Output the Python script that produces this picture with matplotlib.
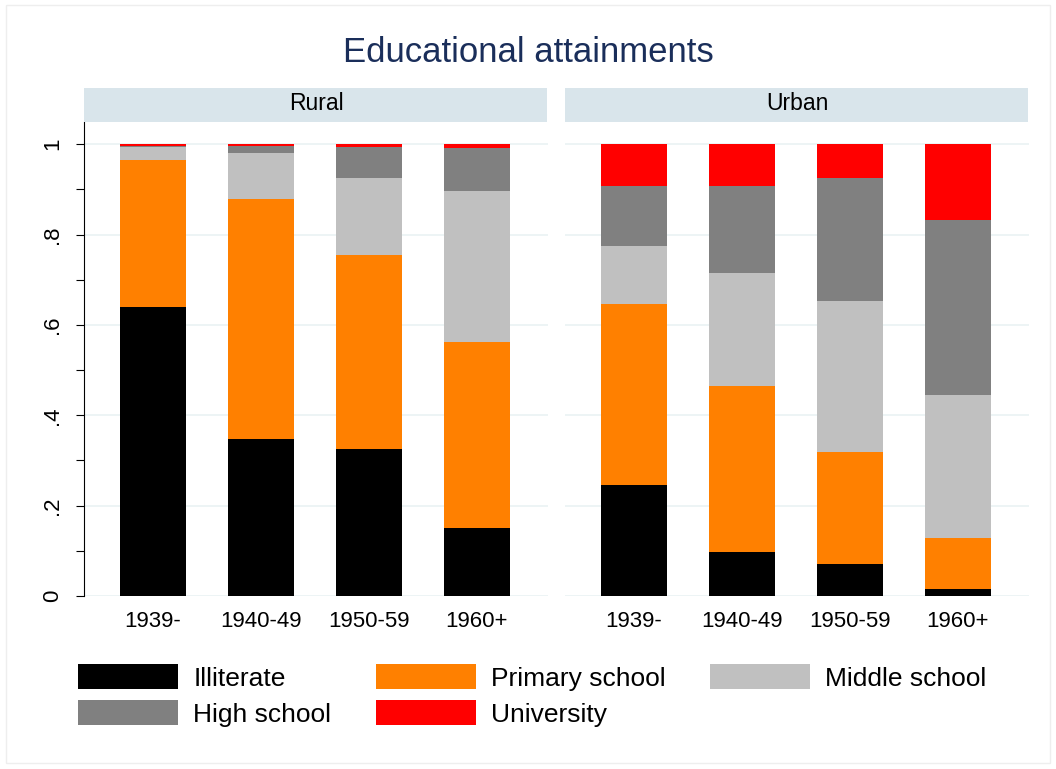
import matplotlib.pyplot as plt
import numpy as np
from matplotlib.patches import Patch, Rectangle

plt.rcParams['font.family'] = ['Liberation Sans', 'DejaVu Sans']

# Cohorts and education levels
cohorts = ['1939-', '1940-49', '1950-59', '1960+']
levels = ['Illiterate', 'Primary school', 'Middle school', 'High school', 'University']
colors = ['#000000', '#ff8000', '#c0c0c0', '#808080', '#ff0000']

# Shares by level (one list per level, one value per cohort)
rural_illiterate = [0.639, 0.347, 0.325, 0.150]
rural_primary = [0.326, 0.531, 0.429, 0.412]
rural_middle = [0.029, 0.103, 0.171, 0.334]
rural_high = [0.002, 0.015, 0.069, 0.095]
rural_university = [0.004, 0.004, 0.006, 0.009]

urban_illiterate = [0.246, 0.097, 0.071, 0.015]
urban_primary = [0.400, 0.368, 0.248, 0.113]
urban_middle = [0.128, 0.250, 0.334, 0.317]
urban_high = [0.134, 0.192, 0.272, 0.387]
urban_university = [0.092, 0.093, 0.075, 0.168]

panels = {
    'Rural': [rural_illiterate, rural_primary, rural_middle, rural_high, rural_university],
    'Urban': [urban_illiterate, urban_primary, urban_middle, urban_high, urban_university],
}

fig = plt.figure(figsize=(10.56, 7.69), dpi=100)
fig.patches.append(Rectangle((0.006, 0.008), 0.988, 0.985, transform=fig.transFigure,
                             fill=False, edgecolor='#eeeeee', linewidth=1))

W, H = 1056, 769
x = np.arange(len(cohorts))
lefts = [84, 565]
for (name, shares), left in zip(panels.items(), lefts):
    ax = fig.add_axes([left / W, 1 - 596 / H, 464 / W, 474 / H])
    bottom = np.zeros(len(cohorts))
    for vals, col in zip(shares, colors):
        ax.bar(x, vals, bottom=bottom, width=0.61, color=col, zorder=3)
        bottom += np.array(vals)
    ax.set_xlim(-0.64, 3.66)
    ax.set_ylim(0, 1.049)
    ax.set_xticks(x)
    ax.set_xticklabels(cohorts, fontsize=16)
    ax.tick_params(axis='x', length=0, pad=11)
    ax.set_yticks([0, 0.2, 0.4, 0.6, 0.8, 1.0])
    ax.set_yticks(np.arange(0.1, 1.0, 0.2), minor=True)
    ax.grid(axis='y', color='#eaf2f3', linewidth=1.2, zorder=0)
    for s in ['top', 'right', 'bottom']:
        ax.spines[s].set_visible(False)
    if left == 84:
        ax.set_yticklabels(['0', '.2', '.4', '.6', '.8', '1'], rotation=90,
                           va='center', fontsize=16)
        ax.tick_params(axis='y', which='both', length=6, width=0.8, pad=9)
        ax.spines['left'].set_linewidth(0.8)
    else:
        ax.spines['left'].set_visible(False)
        ax.tick_params(axis='y', which='both', length=0, labelleft=False)
    # strip header
    fig.patches.append(Rectangle((left / W, 1 - 122 / H), 463 / W,
                                 34 / H, transform=fig.transFigure,
                                 facecolor='#d9e5eb', edgecolor='none'))
    fig.text((left + 232) / W, 1 - 104 / H, name, ha='center', va='center', fontsize=16.5)

fig.text(0.5, 1 - 53 / H, 'Educational attainments', ha='center', va='center',
         fontsize=25, color='#1a2e5a')

order = [0, 3, 1, 4, 2]
handles = [Patch(facecolor=colors[i], edgecolor='none') for i in order]
labels = [levels[i] for i in order]
fig.legend(handles, labels, ncol=3, loc='upper left', bbox_to_anchor=(78 / W, 1 - 664 / H),
           frameon=False, fontsize=19, handlelength=3.8, handleheight=1.1,
           handletextpad=0.57, columnspacing=1.68, labelspacing=0.36,
           borderpad=0, borderaxespad=0)

fig.savefig('out.png', dpi=100)
